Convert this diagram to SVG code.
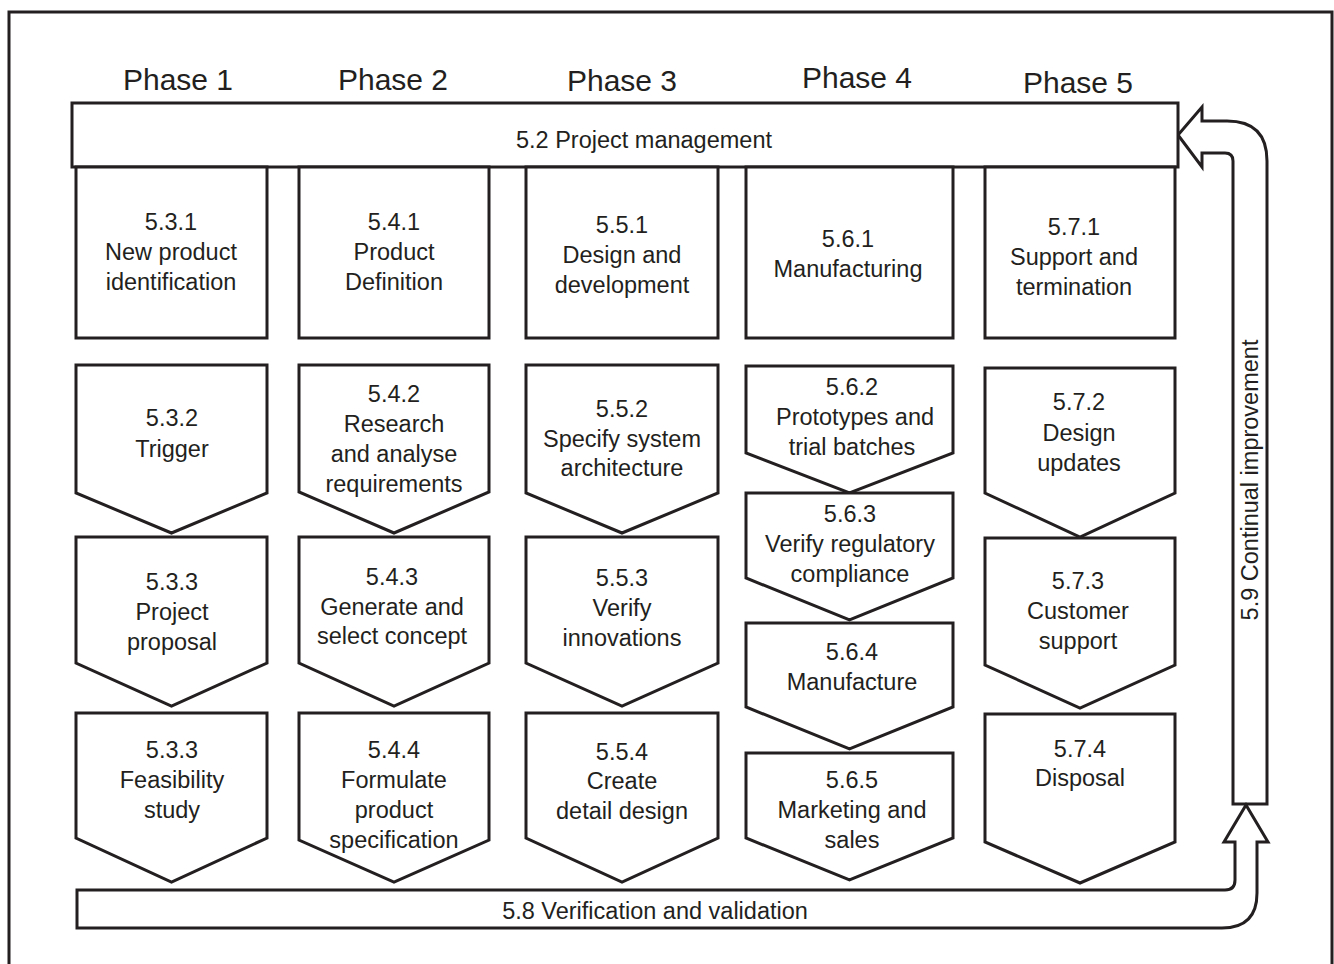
<svg xmlns="http://www.w3.org/2000/svg" width="1334" height="964" viewBox="0 0 1334 964">
<style>
.s{fill:#fff;stroke:#231f20;stroke-width:3;stroke-linejoin:miter}
.t{font-family:"Liberation Sans",Arial,sans-serif;font-size:23.5px;fill:#231f20;text-anchor:middle}
.ph{font-family:"Liberation Sans",Arial,sans-serif;font-size:30px;fill:#231f20;text-anchor:middle}
</style>
<rect x="0" y="0" width="1334" height="964" fill="#fff"/>
<rect id="frame" x="9" y="12" width="1323" height="980" fill="none" stroke="#231f20" stroke-width="3"/>
<g id="phases">
<text class="ph" x="178" y="90">Phase 1</text>
<text class="ph" x="393" y="90">Phase 2</text>
<text class="ph" x="622" y="91">Phase 3</text>
<text class="ph" x="857" y="88">Phase 4</text>
<text class="ph" x="1078" y="93">Phase 5</text>
</g>
<g id="connectors">
<path id="c59" class="s" d="M1233,804 L1233,161 Q1233,153 1225,153 L1202,153 L1202,167 L1178,135 L1202,107 L1202,121 L1227,121 Q1267,121 1267,161 L1267,804 Z"/>
<text class="t" transform="translate(1258,480) rotate(-90)">5.9 Continual improvement</text>
<path id="c58" class="s" d="M77,890 L1225,890 Q1235,890 1235,880 L1235,842 L1224,842 L1246,805 L1268,842 L1257,842 L1257,893 Q1257,928 1222,928 L77,928 Z"/>
<text class="t" x="655" y="919">5.8 Verification and validation</text>
</g>
<g id="n52">
<rect class="s" x="72" y="103" width="1106" height="64"/>
<text class="t" x="644" y="148">5.2 Project management</text>
</g>
<g id="n531"><rect class="s" x="76" y="167" width="191" height="171"/>
<text class="t"><tspan x="171" y="230">5.3.1</tspan><tspan x="171" y="260">New product</tspan><tspan x="171" y="290">identification</tspan></text></g>
<g id="n532"><polygon class="s" points="76,365 267,365 267,493 171.5,533 76,493"/>
<text class="t"><tspan x="172" y="426">5.3.2</tspan><tspan x="172" y="457">Trigger</tspan></text></g>
<g id="n533a"><polygon class="s" points="76,537 267,537 267,663 171.5,706 76,663"/>
<text class="t"><tspan x="172" y="590">5.3.3</tspan><tspan x="172" y="620">Project</tspan><tspan x="172" y="650">proposal</tspan></text></g>
<g id="n533b"><polygon class="s" points="76,713 267,713 267,838 171.5,882 76,838"/>
<text class="t"><tspan x="172" y="758">5.3.3</tspan><tspan x="172" y="788">Feasibility</tspan><tspan x="172" y="818">study</tspan></text></g>

<g id="n541"><rect class="s" x="299" y="167" width="190" height="171"/>
<text class="t"><tspan x="394" y="230">5.4.1</tspan><tspan x="394" y="260">Product</tspan><tspan x="394" y="290">Definition</tspan></text></g>
<g id="n542"><polygon class="s" points="299,365 489,365 489,492 394,533 299,492"/>
<text class="t"><tspan x="394" y="402">5.4.2</tspan><tspan x="394" y="432">Research</tspan><tspan x="394" y="462">and analyse</tspan><tspan x="394" y="492">requirements</tspan></text></g>
<g id="n543"><polygon class="s" points="299,537 489,537 489,663 394,706 299,663"/>
<text class="t"><tspan x="392" y="585">5.4.3</tspan><tspan x="392" y="615">Generate and</tspan><tspan x="392" y="644">select concept</tspan></text></g>
<g id="n544"><polygon class="s" points="299,713 489,713 489,840 394,882 299,840"/>
<text class="t"><tspan x="394" y="758">5.4.4</tspan><tspan x="394" y="788">Formulate</tspan><tspan x="394" y="818">product</tspan><tspan x="394" y="848">specification</tspan></text></g>

<g id="n551"><rect class="s" x="526" y="167" width="192" height="171"/>
<text class="t"><tspan x="622" y="233">5.5.1</tspan><tspan x="622" y="263">Design and</tspan><tspan x="622" y="293">development</tspan></text></g>
<g id="n552"><polygon class="s" points="526,365 718,365 718,493 622,533 526,493"/>
<text class="t"><tspan x="622" y="417">5.5.2</tspan><tspan x="622" y="447">Specify system</tspan><tspan x="622" y="476">architecture</tspan></text></g>
<g id="n553"><polygon class="s" points="526,537 718,537 718,663 622,706 526,663"/>
<text class="t"><tspan x="622" y="586">5.5.3</tspan><tspan x="622" y="616">Verify</tspan><tspan x="622" y="646">innovations</tspan></text></g>
<g id="n554"><polygon class="s" points="526,713 718,713 718,838 622,882 526,838"/>
<text class="t"><tspan x="622" y="760">5.5.4</tspan><tspan x="622" y="789">Create</tspan><tspan x="622" y="819">detail design</tspan></text></g>

<g id="n561"><rect class="s" x="746" y="167" width="207" height="171"/>
<text class="t"><tspan x="848" y="247">5.6.1</tspan><tspan x="848" y="277">Manufacturing</tspan></text></g>
<g id="n562"><polygon class="s" points="746,366 953,366 953,453 849.5,493 746,453"/>
<text class="t"><tspan x="852" y="395">5.6.2</tspan><tspan x="855" y="425">Prototypes and</tspan><tspan x="852" y="455">trial batches</tspan></text></g>
<g id="n563"><polygon class="s" points="746,493 953,493 953,578 849.5,620 746,578"/>
<text class="t"><tspan x="850" y="522">5.6.3</tspan><tspan x="850" y="552">Verify regulatory</tspan><tspan x="850" y="582">compliance</tspan></text></g>
<g id="n564"><polygon class="s" points="746,623 953,623 953,707 849.5,749 746,707"/>
<text class="t"><tspan x="852" y="660">5.6.4</tspan><tspan x="852" y="690">Manufacture</tspan></text></g>
<g id="n565"><polygon class="s" points="746,753 953,753 953,838 849.5,880 746,838"/>
<text class="t"><tspan x="852" y="788">5.6.5</tspan><tspan x="852" y="818">Marketing and</tspan><tspan x="852" y="848">sales</tspan></text></g>

<g id="n571"><rect class="s" x="985" y="167" width="190" height="171"/>
<text class="t"><tspan x="1074" y="235">5.7.1</tspan><tspan x="1074" y="265">Support and</tspan><tspan x="1074" y="295">termination</tspan></text></g>
<g id="n572"><polygon class="s" points="985,368 1175,368 1175,493 1080,537 985,493"/>
<text class="t"><tspan x="1079" y="410">5.7.2</tspan><tspan x="1079" y="441">Design</tspan><tspan x="1079" y="471">updates</tspan></text></g>
<g id="n573"><polygon class="s" points="985,538 1175,538 1175,665 1080,708 985,665"/>
<text class="t"><tspan x="1078" y="589">5.7.3</tspan><tspan x="1078" y="619">Customer</tspan><tspan x="1078" y="649">support</tspan></text></g>
<g id="n574"><polygon class="s" points="985,714 1175,714 1175,842 1080,883 985,842"/>
<text class="t"><tspan x="1080" y="757">5.7.4</tspan><tspan x="1080" y="786">Disposal</tspan></text></g>
</svg>
